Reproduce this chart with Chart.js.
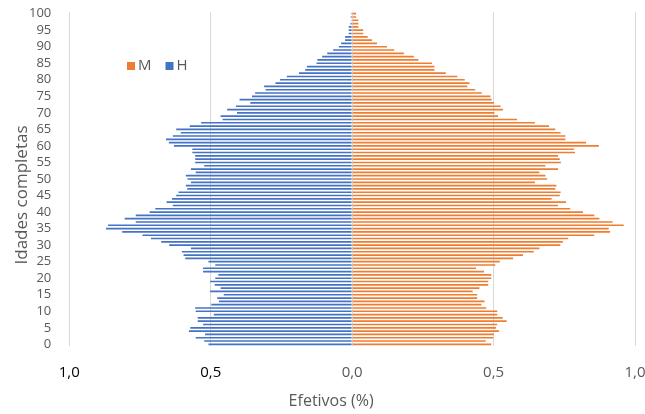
<!DOCTYPE html>
<html>
<head>
<meta charset="utf-8">
<script src="https://cdn.jsdelivr.net/npm/chart.js@4/dist/chart.umd.min.js"></script>
<style>
  html, body { margin: 0; padding: 0; background: #fff; overflow: hidden; }
  #wrap { width: 645px; height: 414px; position: relative; }
</style>
</head>
<body>
<div id="wrap"><canvas id="pyramid"></canvas></div>
<script>
// ages 0..100
var ages = [];
for (var a = 0; a <= 100; a++) ages.push(String(a));

// Homens (%), age 0..100
var homens = [
  0.508, 0.523, 0.553, 0.520, 0.577, 0.572, 0.527, 0.546, 0.546, 0.489,
  0.553, 0.555, 0.498, 0.471, 0.477, 0.454, 0.502, 0.465, 0.486, 0.502,
  0.484, 0.473, 0.527, 0.527, 0.484, 0.508, 0.590, 0.596, 0.602, 0.570,
  0.647, 0.675, 0.711, 0.741, 0.813, 0.870, 0.863, 0.765, 0.804, 0.765,
  0.716, 0.696, 0.634, 0.656, 0.637, 0.622, 0.614, 0.583, 0.588, 0.570,
  0.582, 0.588, 0.553, 0.570, 0.523, 0.555, 0.555, 0.555, 0.565, 0.565,
  0.630, 0.648, 0.658, 0.634, 0.606, 0.622, 0.574, 0.534, 0.458, 0.465,
  0.407, 0.442, 0.411, 0.360, 0.398, 0.354, 0.343, 0.306, 0.311, 0.271,
  0.255, 0.231, 0.188, 0.166, 0.160, 0.126, 0.123, 0.106, 0.088, 0.067,
  0.047, 0.039, 0.025, 0.025, 0.012, 0.012, 0.012, 0.006, 0.003, 0.005,
  0.003
];

// Mulheres (%), age 0..100
var mulheres = [
  0.492, 0.472, 0.499, 0.501, 0.519, 0.509, 0.513, 0.546, 0.532, 0.513,
  0.513, 0.474, 0.457, 0.468, 0.442, 0.442, 0.426, 0.450, 0.481, 0.481,
  0.492, 0.492, 0.466, 0.438, 0.506, 0.522, 0.569, 0.604, 0.642, 0.662,
  0.736, 0.745, 0.764, 0.856, 0.912, 0.907, 0.960, 0.921, 0.874, 0.856,
  0.816, 0.771, 0.728, 0.756, 0.705, 0.734, 0.737, 0.718, 0.722, 0.646,
  0.689, 0.683, 0.662, 0.728, 0.683, 0.738, 0.734, 0.728, 0.788, 0.784,
  0.872, 0.827, 0.754, 0.754, 0.737, 0.718, 0.696, 0.646, 0.583, 0.516,
  0.503, 0.533, 0.525, 0.501, 0.493, 0.489, 0.458, 0.435, 0.407, 0.415,
  0.398, 0.372, 0.331, 0.291, 0.291, 0.282, 0.234, 0.218, 0.183, 0.149,
  0.123, 0.088, 0.070, 0.055, 0.039, 0.039, 0.022, 0.022, 0.022, 0.014,
  0.014
];

var xTicks = [-1, -0.5, 0, 0.5, 1];
var xTitle = 'Efetivos (%)';
var yTitle = 'Idades completas';

var grey = '#595959';
var fontFam = "'Open Sans', 'Noto Sans', sans-serif";

// legend and axis titles, placed where the original has them
var extras = {
  id: 'extras',
  afterDraw: function(chart) {
    var ctx = chart.ctx;
    var area = chart.chartArea;
    ctx.save();
    // legend inside the plot
    var x = 127, y = 66;
    ctx.font = '15px ' + fontFam;
    ctx.textBaseline = 'middle';
    chart.data.datasets.forEach(function(ds) {
      ctx.fillStyle = ds.backgroundColor;
      ctx.fillRect(x, y - 4, 8, 8);
      ctx.fillStyle = grey;
      ctx.fillText(ds.label, x + 11, y);
      x += 11 + ctx.measureText(ds.label).width + 14;
    });
    // x title
    ctx.textAlign = 'center';
    ctx.font = '16px ' + fontFam;
    ctx.fillText(xTitle, (area.left + area.right) / 2 - 21, 401);
    // y title
    ctx.translate(22, (area.top + area.bottom) / 2 + 16);
    ctx.rotate(-Math.PI / 2);
    ctx.font = '17px ' + fontFam;
    ctx.fillText(yTitle, 0, 0);
    ctx.restore();
  }
};

var ctx = document.getElementById('pyramid');
var chart = new Chart(ctx, {
  type: 'bar',
  data: {
    labels: ages,
    datasets: [{
      label: 'M',
      data: mulheres,
      backgroundColor: '#ED7D31',
      barPercentage: 0.5,
      categoryPercentage: 1.0
    }, {
      label: 'H',
      data: homens.map(function(v) { return -v; }),
      backgroundColor: '#4472C4',
      barPercentage: 0.5,
      categoryPercentage: 1.0
    }]
  },
  options: {
    indexAxis: 'y',
    responsive: true,
    maintainAspectRatio: false,
    animation: false,
    layout: { padding: { top: 12, right: 10, left: 19, bottom: 14 } },
    plugins: {
      legend: { display: false },
      tooltip: { enabled: false }
    },
    scales: {
      x: {
        stacked: true,
        min: -1,
        max: 1,
        afterBuildTicks: function(scale) {
          scale.ticks = xTicks.map(function(v) { return { value: v }; });
        },
        afterFit: function(scale) {
          scale.paddingRight = 0;
          scale.paddingLeft = 0;
        },
        grid: { color: '#d9d9d9', lineWidth: 1, drawTicks: false },
        border: { display: false },
        ticks: {
          padding: 18,
          font: { size: 15, family: fontFam },
          color: function(c) { return c.tick && c.tick.value < 0 ? '#000000' : grey; },
          callback: function(v) { return Math.abs(v).toFixed(1).replace('.', ','); }
        }
      },
      y: {
        stacked: true,
        reverse: true,
        afterFit: function(scale) {
          scale.paddingTop = 0;
          scale.paddingBottom = 0;
        },
        grid: { display: false },
        border: { display: false },
        ticks: {
          autoSkip: false,
          padding: 10,
          color: grey,
          font: { size: 13, family: fontFam },
          callback: function(v, i) { return i % 5 === 0 ? ages[i] : ''; }
        }
      }
    }
  },
  plugins: [extras]
});
</script>
</body>
</html>
